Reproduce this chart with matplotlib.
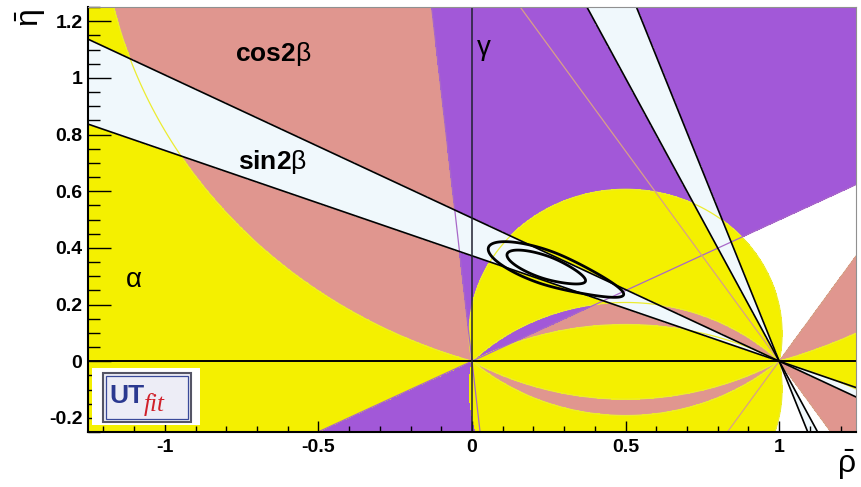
import numpy as np
import matplotlib
matplotlib.use("Agg")
import matplotlib.pyplot as plt
from matplotlib.patches import Rectangle
from matplotlib.ticker import MultipleLocator

plt.rcParams['font.family'] = ['Liberation Sans', 'DejaVu Sans']
plt.rcParams['mathtext.fontset'] = 'custom'
plt.rcParams['mathtext.rm'] = 'Liberation Sans'
plt.rcParams['mathtext.bf'] = 'Liberation Sans:bold'
plt.rcParams['mathtext.it'] = 'Liberation Sans:italic'

# allowed / excluded ranges of the angle constraints (degrees)
alpha_gaps_up = [(17.0, 79.0), (135.0, 151.0)]     # excluded alpha, eta > 0
alpha_gaps_down = [(138.0, 150.0)]                 # excluded alpha, eta < 0
alpha_gaps_right = [(17.0, 79.0)]                  # excluded alpha, eta < 0, rho > 0.5
gamma_ranges = [(26.5, 96.0), (206.5, 276.0)]
sin2b_ranges = [(20.4, 26.8), (63.4, 69.6)]
cos2b_max = 56.0

# global fit (chi2 shape along the sin2b band)
fit_centre = (0.235, 0.333)
fit_angle = -21.0
fit_sigma_left = 0.085
fit_sigma_right = 0.066
fit_tail = 0.33
fit_sigma_perp = 0.026
fit_levels = [2.3, 5.2]

x_ticks = [-1, -0.5, 0, 0.5, 1]
x_labels = ['-1', '-0.5', '0', '0.5', '1']
y_ticks = [-0.2, 0, 0.2, 0.4, 0.6, 0.8, 1.0, 1.2]
y_labels = ['-0.2', '0', '0.2', '0.4', '0.6', '0.8', '1', '1.2']

c_pink = '#e0968f'
c_purple = '#a258d8'
c_yellow = '#f4f000'
c_band = '#f0f8fc'

rho = np.linspace(-1.25, 1.25, 1600)
eta = np.linspace(-0.25, 1.25, 1000)
R, E = np.meshgrid(rho, eta)

# angle seen from (rho, eta) between (0,0) and (1,0)
u = np.degrees(np.arctan2(np.abs(E), R**2 - R + E**2))
gam = np.degrees(np.arctan2(E, R)) % 360
theta = (np.degrees(np.arctan2(E, 1 - R)) + 90) % 180 - 90


def inside(v, ranges):
    m = np.zeros(v.shape, bool)
    for lo, hi in ranges:
        m |= (v >= lo) & (v <= hi)
    return m


up = E >= 0
pink = np.abs(theta) < cos2b_max
purple = inside(gam, gamma_ranges)
yellow_dn = (~inside(u, alpha_gaps_down)
             & ~((R > 0.5) & inside(u, alpha_gaps_right))
             & ~(inside(gam, gamma_ranges[1:]) & (u < alpha_gaps_right[0][1])))
yellow = np.where(up, ~inside(u, alpha_gaps_up), yellow_dn)
band = inside(theta, sin2b_ranges)

fig = plt.figure(figsize=(8.62, 4.87), dpi=100)
ax = fig.add_axes([88 / 862, 55 / 487, 768 / 862, 425 / 487])

for mask, col, z in [(pink, c_pink, 1.0), (purple, c_purple, 1.1),
                     (yellow, c_yellow, 1.2), (band, c_band, 1.3)]:
    ax.contourf(R, E, mask.astype(float), levels=[0.5, 1.5], colors=[col], zorder=z)

# thin outlines of each constraint
ax.contour(R, E, np.where(up, u, np.nan),
           levels=sorted(a for g in alpha_gaps_up for a in g),
           colors='#ecec30', linewidths=0.9, zorder=1.5)
ax.contour(R, E, np.where(~up, u, np.nan),
           levels=sorted(a for g in alpha_gaps_down for a in g),
           colors='#ecec30', linewidths=0.9, zorder=1.5)
ax.contour(R, E, np.where(~up & (R > 0.5), u, np.nan),
           levels=sorted(a for g in alpha_gaps_right for a in g),
           colors='#ecec30', linewidths=0.9, zorder=1.5)
for g in [a for rng in gamma_ranges for a in rng]:
    gr = np.radians(g)
    ax.plot([0, 3 * np.cos(gr)], [0, 3 * np.sin(gr)], color='#a868c8', lw=0.9, zorder=1.5)
for th in (cos2b_max, -cos2b_max):
    ax.axline((1, 0), slope=-np.tan(np.radians(th)), color='#d8a088', lw=0.9, zorder=1.5)
for th in [a for rng in sin2b_ranges for a in rng]:
    ax.axline((1, 0), slope=-np.tan(np.radians(th)), color='black', lw=1.2, zorder=1.6)

# fit contours
ca, sa = np.cos(np.radians(fit_angle)), np.sin(np.radians(fit_angle))
dx, dy = R - fit_centre[0], E - fit_centre[1]
s = dx * ca + dy * sa
t = -dx * sa + dy * ca
s_eff = np.where(s < 0, s / fit_sigma_left,
                 (s / (1 + np.clip(s, 0, None) / fit_tail)) / fit_sigma_right)
chi2 = s_eff**2 + (t / fit_sigma_perp)**2
ax.contour(R, E, chi2, levels=fit_levels, colors='black', linewidths=2.0, zorder=1.7)

ax.axhline(0, color='black', lw=1.4, zorder=1.8)
ax.axvline(0, color='#202030', lw=1.1, zorder=1.8)

ax.set_xlim(-1.25, 1.25)
ax.set_ylim(-0.25, 1.25)
ax.set_xticks(x_ticks)
ax.set_xticklabels(x_labels, fontweight='bold', fontsize=14)
ax.set_yticks(y_ticks)
ax.set_yticklabels(y_labels, fontweight='bold', fontsize=14)
ax.xaxis.set_minor_locator(MultipleLocator(0.1))
ax.yaxis.set_minor_locator(MultipleLocator(0.05))
ax.tick_params(axis='x', which='major', direction='in', length=8, width=1.0, pad=5)
ax.tick_params(axis='x', which='minor', direction='in', length=4.3, width=1.0)
ax.tick_params(axis='y', which='major', direction='in', length=16.5, width=1.0, pad=4)
ax.tick_params(axis='y', which='minor', direction='in', length=8.5, width=1.0)
for side in ('top', 'right'):
    ax.spines[side].set_color('#909090')
    ax.spines[side].set_linewidth(0.8)
for side in ('left', 'bottom'):
    ax.spines[side].set_linewidth(1.5)

ax.text(-0.772, 1.058, r'$\mathbf{cos2}\mathrm{\beta}$', fontsize=19, zorder=3)
ax.text(-0.762, 0.677, r'$\mathbf{sin2}\mathrm{\beta}$', fontsize=19, zorder=3)
ax.text(0.016, 1.08, 'γ', fontsize=20, zorder=3)
ax.text(-1.127, 0.261, 'α', fontsize=20, zorder=3)

fig.text(0.036, 0.962, r'$\bar{\mathrm{\eta}}$', fontsize=23, rotation=90,
         ha='center', va='center')
fig.text(0.982, 0.045, r'$\bar{\mathrm{\rho}}$', fontsize=23, ha='center', va='center')

# UTfit logo
ax.add_patch(Rectangle((0.005, 0.016), 0.141, 0.134, transform=ax.transAxes,
                       facecolor='white', edgecolor='none', zorder=2.2))
ax.add_patch(Rectangle((0.0195, 0.0235), 0.1145, 0.1155, transform=ax.transAxes,
                       facecolor='#ededf6', edgecolor='#555566', lw=1.5, zorder=2.3))
ax.add_patch(Rectangle((0.0235, 0.031), 0.1065, 0.1005, transform=ax.transAxes,
                       facecolor='none', edgecolor='#3a4a9a', lw=0.9, zorder=2.3))
ax.text(0.028, 0.068, 'UT', transform=ax.transAxes, fontsize=19, fontweight='bold',
        color='#2b3990', zorder=2.4)
ax.text(0.072, 0.05, 'fit', transform=ax.transAxes, fontsize=18, style='italic',
        family='Liberation Serif', color='#d0202a', zorder=2.4)

fig.savefig('out.png', dpi=100)
